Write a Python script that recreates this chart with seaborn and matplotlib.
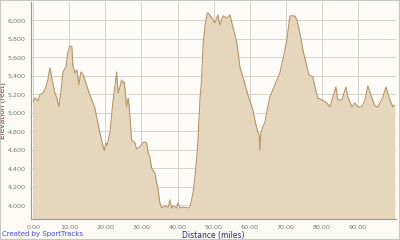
import matplotlib
matplotlib.use("Agg")
import matplotlib.pyplot as plt
import seaborn as sns
import pandas as pd
from matplotlib.ticker import FuncFormatter

distance_miles = [0.0, 0.47, 1.30, 1.86, 2.69, 3.52, 4.07, 4.63, 5.18, 6.01, 6.57, 7.12, 7.67, 8.23,
                  9.06, 9.61, 10.17, 10.72, 11.00, 11.55, 12.11, 12.66, 13.21, 13.77, 14.60, 15.43,
                  16.26, 17.09, 17.65, 18.48, 19.67, 20.14, 20.50, 21.25, 21.72, 22.16, 22.63, 23.10,
                  23.55, 24.02, 24.49, 24.93, 25.21, 25.40, 25.87, 26.32, 26.59, 26.98, 27.26, 28.17,
                  28.64, 29.56, 30.30, 30.94, 31.41, 31.86, 32.33, 32.80, 33.71, 34.18, 34.63, 35.10,
                  35.57, 36.48, 36.95, 37.40, 37.87, 38.34, 38.78, 39.72, 40.17, 40.64, 41.55, 42.94,
                  43.41, 43.88, 44.32, 44.79, 45.26, 45.71, 46.18, 46.65, 47.09, 47.56, 48.20, 48.48,
                  49.50, 50.33, 51.16, 51.72, 52.55, 53.66, 54.49, 55.32, 56.43, 57.26, 58.09, 59.47,
                  60.86, 61.41, 62.16, 62.60, 62.80, 63.07, 63.63, 64.18, 64.73, 65.56, 66.95, 68.33,
                  69.44, 70.27, 71.11, 72.49, 73.04, 73.88, 74.71, 75.82, 76.37, 77.48, 78.03, 78.86,
                  79.97, 81.36, 82.19, 83.02, 83.85, 84.40, 85.51, 86.62, 87.17, 88.28, 89.11, 89.94,
                  91.05, 91.88, 92.71, 93.82, 94.65, 95.48, 96.87, 97.70, 98.81, 99.64, 100.19]

elevation_feet = [5120, 5162, 5130, 5195, 5216, 5281, 5357, 5487, 5378, 5216, 5162, 5065, 5216, 5443,
                  5497, 5659, 5724, 5714, 5519, 5432, 5465, 5303, 5443, 5422, 5324, 5227,
                  5141, 5054, 4946, 4784, 4593, 4676, 4654, 4784, 4978, 5141, 5281, 5443,
                  5216, 5281, 5357, 5324, 5335, 5270, 5065, 5162, 5065, 4870, 4708, 4676,
                  4611, 4632, 4676, 4687, 4676, 4568, 4524, 4406, 4351, 4254, 4168, 4027,
                  3973, 3995, 3984, 3984, 4060, 3973, 3995, 3973, 4027, 3973, 3984, 3973,
                  3984, 4060, 4146, 4308, 4492, 4741, 5141, 5357, 5757, 5930, 6081, 6081,
                  6027, 5973, 6059, 5951, 6049, 6027, 6059, 5930, 5757, 5497, 5389, 5195,
                  5032, 4924, 4798, 4762, 4600, 4784, 4849, 4903, 5011, 5173, 5303, 5432,
                  5627, 5789, 6049, 6049, 6005, 5865, 5681, 5497, 5411, 5389, 5281, 5162,
                  5141, 5108, 5065, 5173, 5281, 5141, 5141, 5281, 5173, 5065, 5108, 5065,
                  5065, 5141, 5292, 5162, 5076, 5065, 5173, 5281, 5141, 5065, 5086]

x_ticks = [0, 10, 20, 30, 40, 50, 60, 70, 80, 90]
y_ticks = [4000, 4200, 4400, 4600, 4800, 5000, 5200, 5400, 5600, 5800, 6000]

df = pd.DataFrame({"Distance (miles)": distance_miles, "Elevation (feet)": elevation_feet})

sns.set_theme(style="white")
plt.rcParams["font.family"] = ["DejaVu Sans"]

fig = plt.figure(figsize=(4.0, 2.4), dpi=100, facecolor="#FBFAF5")
ax = fig.add_axes([0.0775, 0.0875, 0.9125, 0.9045])
ax.set_facecolor("#FDFCF8")

ymin, ymax = 3854, 6200
ax.fill_between(df["Distance (miles)"], df["Elevation (feet)"], ymin,
                color="#E6D6BD", zorder=2, linewidth=0)
sns.lineplot(data=df, x="Distance (miles)", y="Elevation (feet)", ax=ax,
             color="#B8956A", linewidth=0.8, zorder=3)

ax.set_xlim(-0.6, 100.5)
ax.set_ylim(ymin, ymax)
ax.set_xticks(x_ticks)
ax.set_yticks(y_ticks)
ax.xaxis.set_major_formatter(FuncFormatter(lambda v, p: f"{v:.2f}"))
ax.yaxis.set_major_formatter(FuncFormatter(lambda v, p: f"{v:,.0f}"))
ax.grid(True, color="#D6D2CA", linewidth=0.7, zorder=4)
for line in ax.get_xgridlines() + ax.get_ygridlines():
    line.set_zorder(4)

ax.tick_params(axis="both", labelsize=4.6, colors="#888888", length=2, width=0.6,
               pad=2, direction="out")
ax.tick_params(axis="both", labelcolor="#777777")
for s in ["left", "bottom"]:
    ax.spines[s].set_color("#999999")
    ax.spines[s].set_linewidth(0.8)
for s in ["top", "right"]:
    ax.spines[s].set_visible(False)

ax.set_xlabel("Distance (miles)", fontsize=5.5, color="#1E2A78", labelpad=1)
ax.set_ylabel("Elevation (feet)", fontsize=5.3, color="#8B2A10")
ax.yaxis.set_label_coords(-0.068, 0.5)

fig.text(0.005, 0.012, "Created by SportTracks", fontsize=5, color="#4444DD", ha="left", va="bottom")

fig.patches.append(plt.Rectangle((0, 0), 1, 1, transform=fig.transFigure, fill=False,
                                 edgecolor="#BBBBBB", linewidth=1.2))

fig.savefig("out.png", dpi=100, facecolor=fig.get_facecolor())
